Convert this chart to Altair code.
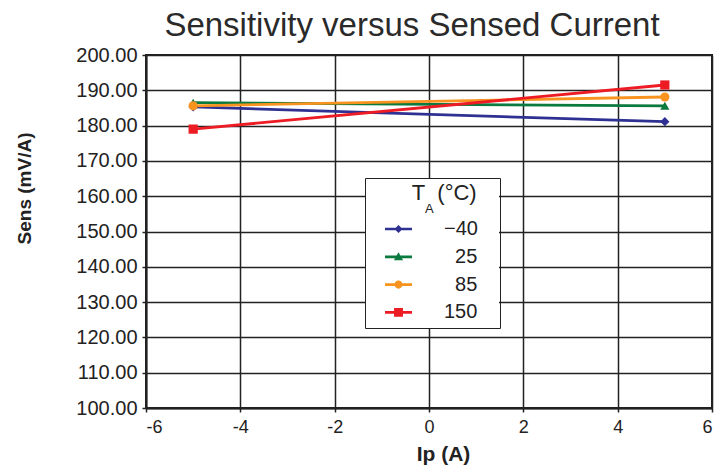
import altair as alt
import pandas as pd

# ---- data ----
currents = [-5, 5]
temps = ["\u221240", "25", "85", "150"]
sens_m40 = [185.3, 181.1]
sens_25 = [186.5, 185.6]
sens_85 = [185.6, 188.1]
sens_150 = [179.0, 191.5]

colors = ["#2e3192", "#0b7a3e", "#f7931e", "#ed1c24"]
point_shapes = ["diamond", "triangle-up", "circle", "square"]
x_ticks = [-6, -4, -2, 0, 2, 4, 6]
y_ticks = [100, 110, 120, 130, 140, 150, 160, 170, 180, 190, 200]

rows = []
for t, vals in zip(temps, [sens_m40, sens_25, sens_85, sens_150]):
    for c, v in zip(currents, vals):
        rows.append({"ip": c, "sens": v, "temp": t})
df = pd.DataFrame(rows)

FONT = "Liberation Sans"
NB = "\u00a0"
ZW = "\u200b"  # zero-width guard so Vega's trim() keeps the padding


def lab(t):
    # right-align legend labels (two no-break spaces ~ one digit) + right margin
    return ZW + (NB + NB if len(t) == 2 else "") + t + NB * 3 + ZW


lab_domain = [lab(t) for t in temps]
lab_expr = (
    "'" + ZW + "' + (length(datum.temp) == 2 ? '" + NB + NB + "' : '') + datum.temp + '"
    + NB * 3 + ZW + "'"
)

# legend symbol paths: line segment + marker, in unit symbol space
bar = "M-1,-0.1H1V0.1H-1Z"
leg_paths = [
    bar + "M0,-0.3L0.3,0L0,0.3L-0.3,0Z",
    bar + "M0,-0.34L0.34,0.26L-0.34,0.26Z",
    bar + "M-0.3,0A0.3,0.3 0 1,1 0.3,0A0.3,0.3 0 1,1 -0.3,0Z",
    bar + "M-0.33,-0.33H0.33V0.33H-0.33Z",
]

color_scale = alt.Scale(domain=lab_domain, range=colors)

legend = alt.Legend(
    title="T" + NB + NB + "(\u00b0C)" + NB * 3 + ZW,
    orient="none",
    legendX=219,
    legendY=123,
    padding=5,
    symbolOffset=15,
    strokeColor="#222",
    symbolSize=729,
    symbolStrokeWidth=0,
    symbolOpacity=1,
    rowPadding=3.8,
    labelFont=FONT,
    labelFontSize=20,
    labelColor="#222",
    labelOffset=32,
    titleFont=FONT,
    titleFontSize=22,
    titleFontWeight="normal",
    titleColor="#222",
    titleAnchor="end",
    titlePadding=10.5,
)

x_enc = alt.X(
    "ip:Q",
    scale=alt.Scale(domain=[-6, 6], nice=False),
    axis=alt.Axis(
        values=x_ticks,
        title="Ip (A)",
        format="d",
        labelExpr="datum.value < 0 ? '-' + abs(datum.value) : datum.label",
    ),
)
y_enc = alt.Y(
    "sens:Q",
    scale=alt.Scale(domain=[100, 200], nice=False),
    axis=alt.Axis(values=y_ticks, title="Sens (mV/A)", format=".2f"),
)
color_enc = alt.Color("tlab:N", scale=color_scale, sort=lab_domain, legend=legend)

base = alt.Chart(df).transform_calculate(tlab=lab_expr)

lines = base.mark_line(strokeWidth=2.8).encode(
    x=x_enc, y=y_enc, color=color_enc, order=alt.Order("ip:Q")
)

# legend carrier: tiny marks with line+marker symbol shapes
legend_layer = base.mark_point(filled=True, size=1).encode(
    x=x_enc,
    y=y_enc,
    color=color_enc,
    shape=alt.Shape(
        "tlab:N",
        scale=alt.Scale(domain=lab_domain, range=leg_paths),
        sort=lab_domain,
        legend=legend,
    ),
)

point_layers = [
    base.transform_filter(alt.datum.temp == t)
    .mark_point(filled=True, size=85, opacity=1, shape=s)
    .encode(x=x_enc, y=y_enc, color=color_enc)
    for t, s in zip(temps, point_shapes)
]

one = pd.DataFrame({"t": ["A"]})

# white background of the legend box (hides the grid behind it)
legend_bg = alt.Chart(one).mark_rect(color="white").encode(
    x=alt.value(220), x2=alt.value(353), y=alt.value(124), y2=alt.value(273)
)

sub_a = alt.Chart(one).mark_text(
    font=FONT, fontSize=13, color="#222", align="left", baseline="alphabetic"
).encode(text="t:N", x=alt.value(279), y=alt.value(158))

chart = (
    alt.layer(lines, legend_layer, *point_layers, legend_bg, sub_a)
    .properties(
        width=566,
        height=353,
        autosize=alt.AutoSizeParams(type="none"),
        padding={"left": 138, "top": 47, "right": 4, "bottom": 57},
        title=alt.TitleParams(
            "Sensitivity versus Sensed Current",
            font=FONT,
            fontSize=33,
            fontWeight="normal",
            color="#2a2a2a",
            dx=-17,
            offset=2,
        ),
    )
    .configure_view(stroke="#222", strokeWidth=2)
    .configure_axis(
        grid=True,
        gridColor="#222",
        gridWidth=1.5,
        gridOpacity=1,
        domainColor="#222",
        domainWidth=2,
        tickColor="#222",
        tickSize=4,
        tickWidth=1.5,
        labelFont=FONT,
        labelFontSize=20,
        labelColor="#222",
        titleFont=FONT,
        titleColor="#222",
    )
    .configure_axisX(
        labelPadding=6,
        labelFontSize=18,
        titleFontSize=21,
        titleFontWeight="bold",
        titlePadding=7,
        titleX=297,
    )
    .configure_axisY(
        labelPadding=5,
        titleFontSize=19,
        titleFontWeight="bold",
        titleX=-122,
        titleY=133,
        titleBaseline="middle",
    )
)

chart.save("out.html", embed_options={"renderer": "svg", "actions": False})
